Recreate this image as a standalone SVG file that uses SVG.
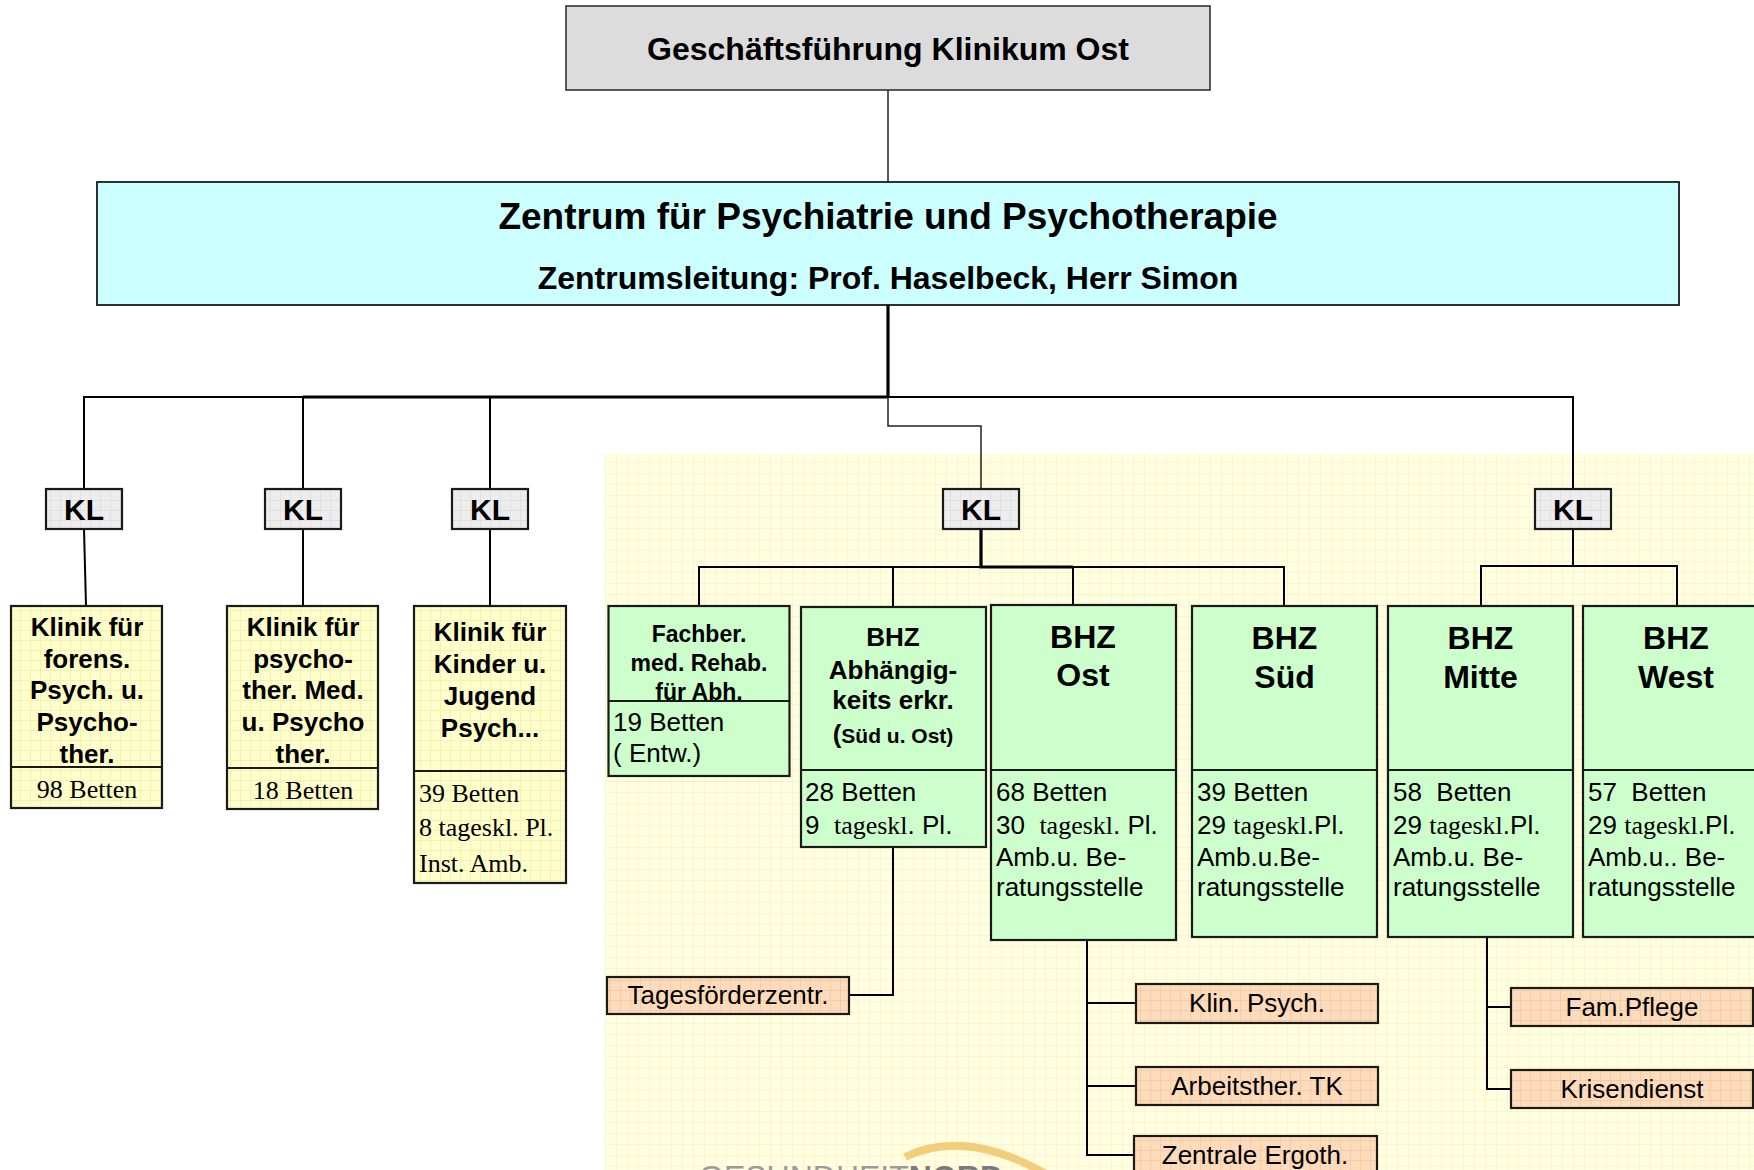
<svg xmlns="http://www.w3.org/2000/svg" width="1754" height="1170" viewBox="0 0 1754 1170">
<style>
text{font-family:"Liberation Sans",Arial,sans-serif;fill:#000}
.b{font-weight:bold}
.c{text-anchor:middle}
.sf{font-family:"Liberation Serif","Times New Roman",serif}
.box{stroke:#1a1a1a;stroke-width:2.2}
.div{stroke:#1a1a1a;stroke-width:2.2;fill:none}
.ln{stroke:#000;stroke-width:2;fill:none}
.thk{stroke:#000;stroke-width:3.2;fill:none}
.thin{stroke:#222;stroke-width:1.5;fill:none}
.green{fill:#ccffcc}
.kl{fill:url(#pKL)}
.yel{fill:url(#pY)}
.org{fill:url(#pO)}
.f26{font-size:26px}
.f23{font-size:23px}
.f32{font-size:32px}
.f30{font-size:30px}
</style>
<defs>
<pattern id="pBg" width="11" height="11" patternUnits="userSpaceOnUse"><rect width="11" height="11" fill="#ffffe0"/><path d="M0 0.5H11M0.5 0V11" stroke="#faf4d2" stroke-width="1"/></pattern>
<pattern id="pKL" width="10" height="10" patternUnits="userSpaceOnUse"><rect width="10" height="10" fill="#ededed"/><path d="M0 0.5H10M0.5 0V10" stroke="#e0e0e0" stroke-width="1"/></pattern>
<pattern id="pY" width="10" height="10" patternUnits="userSpaceOnUse"><rect width="10" height="10" fill="#ffffcc"/><path d="M0 0.5H10M0.5 0V10" stroke="#f5f0b4" stroke-width="1"/></pattern>
<pattern id="pO" width="10" height="10" patternUnits="userSpaceOnUse"><rect width="10" height="10" fill="#fddcbc"/><path d="M0 0.5H10M0.5 0V10" stroke="#f7cba8" stroke-width="1"/></pattern>
</defs>
<rect width="1754" height="1170" fill="#ffffff"/>
<g id="background">
<rect x="605" y="454" width="1149" height="716" fill="url(#pBg)"/>
<path d="M905 1157 Q965 1128 1046 1174" stroke="#f0c46a" stroke-width="8" fill="none" opacity="0.85"/>
<text x="699" y="1188" font-size="32" style="fill:#9a9a9a">GESUNDHEIT<tspan class="b" style="fill:#7a7a7a">NORD</tspan></text>
</g>
<g id="connectors">
<path class="thin" d="M888 90V182"/>
<path class="thk" d="M888 305V397"/>
<path class="ln" d="M84 489V397H1573V489"/>
<path class="thk" d="M303 397H888"/>
<path class="ln" d="M303 397V489M490 397V489"/>
<path class="thin" d="M888 397V426H981V489"/>
<path class="ln" d="M84 529L86 606M303 529V606M490 529V606"/>
<path class="thk" d="M981 529V567H1073"/>
<path class="ln" d="M699 606V567H1284V606M893 567V607M1073 567V605"/>
<path class="ln" d="M1573 529V566M1481 606V566H1677V606"/>
<path class="ln" d="M893 847V995H849"/>
<path class="ln" d="M1087 940V1155H1134M1087 1003H1136M1087 1086H1136"/>
<path class="ln" d="M1487 937V1089H1511M1487 1007H1511"/>
</g>
<g id="n-gf">
<rect class="box" x="566" y="6" width="644" height="84" fill="#dcdcdc" style="stroke:#333;stroke-width:1.6"/>
<text class="b c" x="888" y="60" font-size="32">Geschäftsführung Klinikum Ost</text>
</g>
<g id="n-zentrum">
<rect class="box" x="97" y="182" width="1582" height="123" fill="#ccffff" style="stroke-width:1.8"/>
<text class="b c" x="888" y="229" font-size="37">Zentrum für Psychiatrie und Psychotherapie</text>
<text class="b c" x="888" y="289" font-size="32">Zentrumsleitung: Prof. Haselbeck, Herr Simon</text>
</g>
<g id="n-kl1"><rect class="box kl" x="46" y="489" width="76" height="40"/><text class="b c f30" x="84" y="520">KL</text></g>
<g id="n-kl2"><rect class="box kl" x="265" y="489" width="76" height="40"/><text class="b c f30" x="303" y="520">KL</text></g>
<g id="n-kl3"><rect class="box kl" x="452" y="489" width="76" height="40"/><text class="b c f30" x="490" y="520">KL</text></g>
<g id="n-kl4"><rect class="box kl" x="943" y="489" width="76" height="40"/><text class="b c f30" x="981" y="520">KL</text></g>
<g id="n-kl5"><rect class="box kl" x="1535" y="489" width="76" height="40"/><text class="b c f30" x="1573" y="520">KL</text></g>
<g id="n-forens">
<rect class="box yel" x="11" y="606" width="151" height="202"/>
<path class="div" d="M11 767H162"/>
<text class="b c f26" x="87" y="636">Klinik für</text>
<text class="b c f26" x="87" y="668">forens.</text>
<text class="b c f26" x="87" y="699">Psych. u.</text>
<text class="b c f26" x="87" y="731">Psycho-</text>
<text class="b c f26" x="87" y="763">ther.</text>
<text class="sf c f26" x="87" y="798">98 Betten</text>
</g>
<g id="n-psychother">
<rect class="box yel" x="227" y="606" width="151" height="203"/>
<path class="div" d="M227 768H378"/>
<text class="b c f26" x="303" y="636">Klinik für</text>
<text class="b c f26" x="303" y="668">psycho-</text>
<text class="b c f26" x="303" y="699">ther. Med.</text>
<text class="b c f26" x="303" y="731">u. Psycho</text>
<text class="b c f26" x="303" y="763">ther.</text>
<text class="sf c f26" x="303" y="799">18 Betten</text>
</g>
<g id="n-kinder">
<rect class="box yel" x="414" y="606" width="152" height="277"/>
<path class="div" d="M414 771H566"/>
<text class="b c f26" x="490" y="641">Klinik für</text>
<text class="b c f26" x="490" y="673">Kinder u.</text>
<text class="b c f26" x="490" y="705">Jugend</text>
<text class="b c f26" x="490" y="737">Psych...</text>
<text class="sf f26" x="419" y="802">39 Betten</text>
<text class="sf f26" x="419" y="836">8 tageskl. Pl.</text>
<text class="sf f26" x="419" y="872">Inst. Amb.</text>
</g>
<g id="n-fachber">
<rect class="box green" x="608.5" y="606" width="181" height="170"/>
<text class="b c f23" x="699" y="642">Fachber.</text>
<text class="b c f23" x="699" y="671">med. Rehab.</text>
<text class="b c f23" x="699" y="700">für Abh.</text>
<path class="div" d="M608.5 701H789.5"/>
<text class="f26" x="613" y="731">19 Betten</text>
<text class="f26" x="613" y="762">( Entw.)</text>
</g>
<g id="n-abh">
<rect class="box green" x="801" y="607" width="185" height="240"/>
<path class="div" d="M801 770H986"/>
<text class="b c f26" x="893" y="646">BHZ</text>
<text class="b c f26" x="893" y="679">Abhängig-</text>
<text class="b c f26" x="893" y="709">keits erkr.</text>
<text class="b c f26" x="893" y="743">(<tspan font-size="21">Süd u. Ost)</tspan></text>
<text class="f26" x="805" y="801">28 Betten</text>
<text class="f26" x="805" y="834" xml:space="preserve">9  <tspan class="sf">tageskl</tspan>. Pl.</text>
</g>
<g id="n-ost">
<rect class="box green" x="991" y="605" width="185" height="335"/>
<path class="div" d="M991 770H1176"/>
<text class="b c f32" x="1083" y="648">BHZ</text>
<text class="b c f32" x="1083" y="686">Ost</text>
<text class="f26" x="996" y="801">68 Betten</text>
<text class="f26" x="996" y="834" xml:space="preserve">30  <tspan class="sf">tageskl</tspan>. Pl.</text>
<text class="f26" x="996" y="866">Amb.u. Be-</text>
<text class="f26" x="996" y="896">ratungsstelle</text>
</g>
<g id="n-sued">
<rect class="box green" x="1192" y="606" width="185" height="331"/>
<path class="div" d="M1192 770H1377"/>
<text class="b c f32" x="1284.5" y="649">BHZ</text>
<text class="b c f32" x="1284.5" y="688">Süd</text>
<text class="f26" x="1197" y="801">39 Betten</text>
<text class="f26" x="1197" y="834">29 <tspan class="sf">tageskl</tspan>.Pl.</text>
<text class="f26" x="1197" y="866">Amb.u.Be-</text>
<text class="f26" x="1197" y="896">ratungsstelle</text>
</g>
<g id="n-mitte">
<rect class="box green" x="1388" y="606" width="185" height="331"/>
<path class="div" d="M1388 770H1573"/>
<text class="b c f32" x="1480.5" y="649">BHZ</text>
<text class="b c f32" x="1480.5" y="688">Mitte</text>
<text class="f26" x="1393" y="801" xml:space="preserve">58  Betten</text>
<text class="f26" x="1393" y="834">29 <tspan class="sf">tageskl</tspan>.Pl.</text>
<text class="f26" x="1393" y="866">Amb.u. Be-</text>
<text class="f26" x="1393" y="896">ratungsstelle</text>
</g>
<g id="n-west">
<rect class="box green" x="1583" y="606" width="186" height="331"/>
<path class="div" d="M1583 770H1769"/>
<text class="b c f32" x="1676" y="649">BHZ</text>
<text class="b c f32" x="1676" y="688">West</text>
<text class="f26" x="1588" y="801" xml:space="preserve">57  Betten</text>
<text class="f26" x="1588" y="834">29 <tspan class="sf">tageskl</tspan>.Pl.</text>
<text class="f26" x="1588" y="866">Amb.u.. Be-</text>
<text class="f26" x="1588" y="896">ratungsstelle</text>
</g>
<g id="n-tages"><rect class="box org" x="607" y="977" width="242" height="37"/><text class="c f26" x="728" y="1004">Tagesförderzentr.</text></g>
<g id="n-klinpsych"><rect class="box org" x="1136" y="984" width="242" height="39"/><text class="c f26" x="1257" y="1012">Klin. Psych.</text></g>
<g id="n-arbeit"><rect class="box org" x="1136" y="1067" width="242" height="38"/><text class="c f26" x="1257" y="1095">Arbeitsther. TK</text></g>
<g id="n-ergo"><rect class="box org" x="1134" y="1136" width="243" height="40"/><text class="c f26" x="1255" y="1164">Zentrale Ergoth.</text></g>
<g id="n-fam"><rect class="box org" x="1511" y="988" width="242" height="38"/><text class="c f26" x="1632" y="1016">Fam.Pflege</text></g>
<g id="n-krise"><rect class="box org" x="1511" y="1070" width="242" height="38"/><text class="c f26" x="1632" y="1098">Krisendienst</text></g>
</svg>
